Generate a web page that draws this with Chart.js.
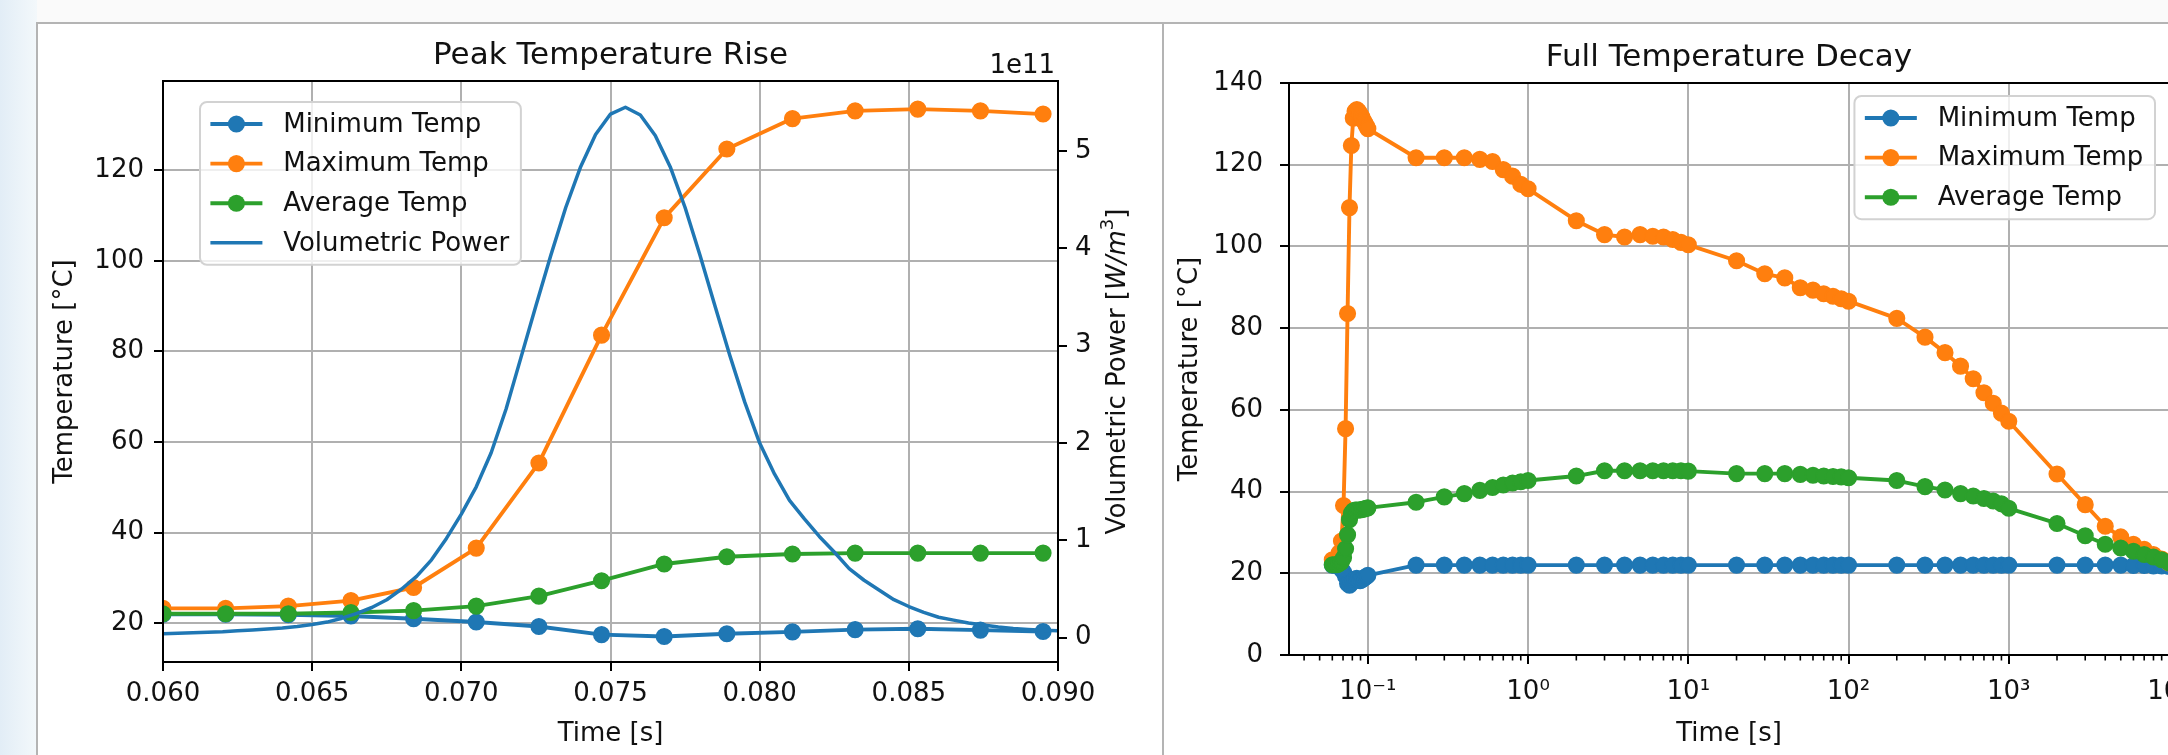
<!DOCTYPE html>
<html>
<head>
<meta charset="utf-8">
<script src="https://cdn.jsdelivr.net/npm/chart.js@4.4.1/dist/chart.umd.min.js"></script>
<style>
html,body{margin:0;padding:0;width:2168px;height:755px;overflow:hidden;}
body{position:relative;background:linear-gradient(90deg,#e2edf6 0,#f3f8fb 37px,#fafafa 37px);}
.panel{position:absolute;top:22px;height:800px;background:#fff;border:2px solid #b4b4b4;box-sizing:border-box;}
#p1{left:36px;width:1128px;}
#p2{left:1162px;width:1100px;}
canvas{position:absolute;}
#riseChart{left:39px;top:25px;}
#decayChart{left:1165px;top:25px;}
</style>
</head>
<body>
<div class="panel" id="p1"></div>
<div class="panel" id="p2"></div>
<canvas id="riseChart" width="1122" height="730" style="width:1122px;height:730px"></canvas>
<canvas id="decayChart" width="1044" height="730" style="width:1044px;height:730px"></canvas>
<script>
// ---- Peak Temperature Rise (left) ----
const riseTime=[0.0600,0.0621,0.0642,0.0663,0.0684,0.0705,0.0726,0.0747,0.0768,0.0789,0.0811,0.0832,0.0853,0.0874,0.0895];
const riseMin=[22.0,22.0,21.9,21.6,21.0,20.3,19.3,17.5,17.1,17.7,18.1,18.6,18.8,18.5,18.2];
const riseMax=[23.3,23.3,23.8,25.0,27.9,36.6,55.4,83.6,109.5,124.7,131.4,133.1,133.5,133.1,132.4];
const riseAvg=[22.1,22.1,22.1,22.4,22.8,23.8,26.0,29.4,33.1,34.7,35.3,35.5,35.5,35.5,35.5];
// volumetric power, units of 1e11 W/m^3
const powerTime=[0.0600,0.0605,0.0610,0.0615,0.0620,0.0625,0.0630,0.0635,0.0640,0.0645,
  0.0650,0.0655,0.0660,0.0665,0.0670,0.0675,0.0680,0.0685,0.0690,0.0695,
  0.0700,0.0705,0.0710,0.0715,0.0720,0.0725,0.0730,0.0735,0.0740,0.0745,
  0.0750,0.0755,0.0760,0.0765,0.0770,0.0775,0.0780,0.0785,0.0790,0.0795,
  0.0800,0.0805,0.0810,0.0815,0.0820,0.0825,0.0830,0.0835,0.0840,0.0845,
  0.0850,0.0855,0.0860,0.0865,0.0870,0.0875,0.0880,0.0885,0.0890,0.0895,0.0900];
const powerVals=[0.04,0.045,0.05,0.055,0.06,0.07,0.08,0.09,0.10,0.115,
  0.135,0.16,0.20,0.25,0.31,0.39,0.50,0.63,0.80,1.02,
  1.27,1.55,1.90,2.35,2.88,3.41,3.93,4.42,4.84,5.17,
  5.38,5.45,5.37,5.16,4.84,4.42,3.93,3.41,2.90,2.42,
  2.00,1.68,1.41,1.22,1.04,0.88,0.71,0.59,0.49,0.39,
  0.32,0.26,0.21,0.18,0.15,0.13,0.11,0.095,0.085,0.075,0.07];
const riseTimeTicks=[0.060,0.065,0.070,0.075,0.080,0.085,0.090];
const riseTempTicks=[20,40,60,80,100,120];
const powerTicks=[0,1,2,3,4,5];

// ---- Full Temperature Decay (right) ----
const decayTime=[0.0600,0.0621,0.0642,0.0663,0.0684,0.0705,0.0726,0.0747,0.0768,0.0789,
  0.0811,0.0832,0.0853,0.0874,0.0895,0.0916,0.0937,0.0958,0.0979,0.1000,
  0.2,0.3,0.4,0.5,0.6,0.7,0.8,0.9,1,
  2,3,4,5,6,7,8,9,10,
  20,30,40,50,60,70,80,90,100,
  200,300,400,500,600,700,800,900,1000,
  2000,3000,4000,5000,6000,7000,8000,9000,10000];
const decayMin=[22.0,22.0,21.9,21.6,21.0,20.3,19.3,17.5,17.1,17.7,
  18.1,18.6,18.8,18.5,18.2,18.4,18.7,19.0,19.2,19.5,
  22.0,22.0,22.0,22.0,22.0,22.0,22.0,22.0,22.0,
  22.0,22.0,22.0,22.0,22.0,22.0,22.0,22.0,22.0,
  22.0,22.0,22.0,22.0,22.0,22.0,22.0,22.0,22.0,
  22.0,22.0,22.0,22.0,22.0,22.0,22.0,22.0,22.0,
  22.0,22.0,22.0,22.0,21.9,21.9,21.8,21.8,21.7];
const decayMax=[23.3,23.3,23.8,25.0,27.9,36.6,55.4,83.6,109.5,124.7,
  131.4,133.1,133.5,133.1,132.4,131.7,130.9,130.2,129.5,128.8,
  121.7,121.7,121.7,121.3,120.8,118.8,117.2,115.2,114.1,
  106.3,102.9,102.3,102.9,102.5,102.3,101.7,101.0,100.4,
  96.5,93.3,92.3,89.9,89.3,88.4,87.8,87.2,86.6,
  82.4,77.8,74.0,70.7,67.6,64.2,61.6,59.2,57.2,
  44.3,36.8,31.5,28.9,27.1,25.9,24.6,23.5,22.5];
const decayAvg=[22.1,22.1,22.1,22.4,22.8,23.8,26.0,29.4,33.1,34.7,
  35.3,35.5,35.5,35.5,35.5,35.6,35.7,35.8,35.9,36.0,
  37.4,38.7,39.5,40.3,41.0,41.6,42.1,42.4,42.7,
  43.8,45.1,45.1,45.1,45.1,45.1,45.1,45.1,45.0,
  44.4,44.4,44.4,44.2,44.0,43.8,43.7,43.6,43.4,
  42.7,41.2,40.4,39.5,38.9,38.3,37.7,37.0,35.9,
  32.2,29.2,27.1,26.2,25.4,24.6,24.0,23.3,22.6];
const decayTimeTicks=[0.1,1,10,100,1000,10000];
const decayTimeLabels=['10⁻¹','10⁰','10¹','10²','10³','10⁴'];
const decayTempTicks=[0,20,40,60,80,100,120,140];

const BLUE='#1f77b4',ORANGE='#ff7f0e',GREEN='#2ca02c';
const FONT='"DejaVu Sans"';
Chart.defaults.font.family=FONT;
Chart.defaults.font.size=26;
Chart.defaults.color='#111';

const pts=(xs,ys)=>xs.map((x,i)=>({x:x,y:ys[i]}));

function tempSet(label,xs,ys,color,order){
  return {label:label,data:pts(xs,ys),borderColor:color,backgroundColor:color,
    pointBackgroundColor:color,pointBorderColor:color,borderWidth:3.9,pointRadius:7.8,
    pointBorderWidth:1.5,tension:0,order:order,clip:0,borderJoinStyle:'round'};
}

// minor ticks for the log axis: 2..9 times each decade
const decayMinor=[];
[0.01,0.1,1,10,100,1000].forEach(d=>{for(let m=2;m<=9;m++)decayMinor.push(+(d*m).toPrecision(3));});

function drawLegend(chart,L){
  const ctx=chart.ctx,a=chart.chartArea,fs=26;
  const items=chart.data.datasets;
  ctx.font=fs+'px '+FONT;
  const tw=Math.max(...items.map(d=>ctx.measureText(d.label).width));
  const w=fs*0.4+fs*2+fs*0.8+tw+fs*0.45;
  const h=44+39.6*(items.length-1);
  const x=L.right?a.right-L.dx-w:a.left+L.dx,y=a.top+L.dy;
  ctx.beginPath();
  if(ctx.roundRect)ctx.roundRect(x,y,w,h,7);else ctx.rect(x,y,w,h);
  ctx.fillStyle='rgba(255,255,255,0.8)';ctx.fill();
  ctx.strokeStyle='#d2d2d2';ctx.lineWidth=2;ctx.stroke();
  items.forEach((d,i)=>{
    const cy=y+22+i*39.6,hx=x+fs*0.4;
    ctx.strokeStyle=d.borderColor;ctx.lineWidth=d.borderWidth;ctx.lineCap='butt';
    ctx.beginPath();ctx.moveTo(hx,cy);ctx.lineTo(hx+fs*2,cy);ctx.stroke();
    if(d.pointRadius>0){
      ctx.fillStyle=d.borderColor;ctx.beginPath();
      ctx.arc(hx+fs,cy,d.pointRadius+0.75,0,Math.PI*2);ctx.fill();
    }
    ctx.fillStyle='#111';ctx.textAlign='left';ctx.textBaseline='middle';
    ctx.font=fs+'px '+FONT;
    ctx.fillText(d.label,hx+fs*2.8,cy+1);
  });
}

const mplDecor={
  id:'mplDecor',
  afterDatasetsDraw(chart,args,o){
    const ctx=chart.ctx,a=chart.chartArea;
    ctx.save();
    if(o.minorTicks){
      const xs=chart.scales.x;
      ctx.strokeStyle='#000';ctx.lineWidth=1.6;
      o.minorTicks.forEach(v=>{
        if(v<xs.min||v>xs.max)return;
        const px=xs.getPixelForValue(v);
        ctx.beginPath();ctx.moveTo(px,a.bottom);ctx.lineTo(px,a.bottom+5.5);ctx.stroke();
      });
    }
    // box spines
    ctx.strokeStyle='#000';ctx.lineWidth=2;
    ctx.strokeRect(a.left,a.top,a.right-a.left,a.bottom-a.top);
    // title
    ctx.fillStyle='#111';ctx.textAlign='center';ctx.textBaseline='alphabetic';
    ctx.font='31px '+FONT;
    ctx.fillText(o.title,(a.left+a.right)/2,a.top-17);
    if(o.offsetText){
      ctx.font='26px '+FONT;ctx.textAlign='right';
      ctx.fillText(o.offsetText,a.right-3,a.top-8);
    }
    if(o.rightTitle){
      ctx.save();
      ctx.translate(a.right+60,(a.top+a.bottom)/2);
      ctx.rotate(-Math.PI/2);
      let total=0;
      o.rightTitle.forEach(p=>{ctx.font=p[1];total+=ctx.measureText(p[0]).width;});
      let cx=-total/2;
      ctx.textAlign='left';ctx.textBaseline='middle';
      o.rightTitle.forEach(p=>{ctx.font=p[1];ctx.fillText(p[0],cx,p[2]);cx+=ctx.measureText(p[0]).width;});
      ctx.restore();
    }
    drawLegend(chart,o.legend);
    ctx.restore();
  }
};

const gridOpts={color:'#b0b0b0',lineWidth:2,tickLength:9,tickColor:'#000',tickWidth:2};

new Chart(document.getElementById('riseChart'),{
  type:'line',
  data:{datasets:[
    tempSet('Minimum Temp',riseTime,riseMin,BLUE,4),
    tempSet('Maximum Temp',riseTime,riseMax,ORANGE,3),
    tempSet('Average Temp',riseTime,riseAvg,GREEN,2),
    {label:'Volumetric Power',data:pts(powerTime,powerVals),yAxisID:'y1',borderColor:BLUE,
     backgroundColor:BLUE,borderWidth:3.5,pointRadius:0,tension:0,order:1,clip:0,borderJoinStyle:'round'}
  ]},
  options:{
    responsive:false,animation:false,events:[],
    layout:{padding:{top:56,left:0,right:0,bottom:0}},
    plugins:{legend:{display:false},tooltip:{enabled:false},
      mplDecor:{title:'Peak Temperature Rise',offsetText:'1e11',
        rightTitle:[['Volumetric Power [','26px '+FONT,0],['W/m','italic 26px '+FONT,0],['3','18px '+FONT,-10],[']','26px '+FONT,0]],
        legend:{right:false,dx:37,dy:21}}},
    scales:{
      x:{type:'linear',min:0.06,max:0.09,
        afterBuildTicks:s=>{s.ticks=riseTimeTicks.map(v=>({value:v}));},
        afterFit:s=>{s.height=93;},
        ticks:{callback:v=>v.toFixed(3),padding:8,autoSkip:false,maxRotation:0},
        grid:gridOpts,border:{display:false},
        title:{display:true,text:'Time [s]',padding:{top:0,bottom:5}}},
      y:{position:'left',min:11.46,max:139.7,
        afterBuildTicks:s=>{s.ticks=riseTempTicks.map(v=>({value:v}));},
        afterFit:s=>{s.width=124;},
        ticks:{padding:10},grid:gridOpts,border:{display:false},
        title:{display:true,text:'Temperature [°C]',padding:{top:11,bottom:0}}},
      y1:{position:'right',min:-0.25,max:5.72,
        afterBuildTicks:s=>{s.ticks=powerTicks.map(v=>({value:v}));},
        afterFit:s=>{s.width=103;},
        ticks:{padding:8},
        grid:Object.assign({},gridOpts,{drawOnChartArea:false}),border:{display:false}}
    }
  },
  plugins:[mplDecor]
});

new Chart(document.getElementById('decayChart'),{
  type:'line',
  data:{datasets:[
    tempSet('Minimum Temp',decayTime,decayMin,BLUE,3),
    tempSet('Maximum Temp',decayTime,decayMax,ORANGE,2),
    tempSet('Average Temp',decayTime,decayAvg,GREEN,1)
  ]},
  options:{
    responsive:false,animation:false,events:[],
    layout:{padding:{top:58,left:0,right:40,bottom:0}},
    plugins:{legend:{display:false},tooltip:{enabled:false},
      mplDecor:{title:'Full Temperature Decay',minorTicks:decayMinor,
        legend:{right:true,dx:14,dy:13}}},
    scales:{
      x:{type:'logarithmic',min:0.0322,max:10000,
        afterBuildTicks:s=>{s.ticks=decayTimeTicks.map(v=>({value:v,major:true}));},
        afterFit:s=>{s.height=100;},
        ticks:{callback:v=>decayTimeLabels[decayTimeTicks.indexOf(v)],padding:13,autoSkip:false,maxRotation:0},
        grid:gridOpts,border:{display:false},
        title:{display:true,text:'Time [s]',padding:{top:0,bottom:5}}},
      y:{position:'left',min:0,max:140,
        afterBuildTicks:s=>{s.ticks=decayTempTicks.map(v=>({value:v}));},
        afterFit:s=>{s.width=124;},
        ticks:{padding:17},grid:gridOpts,border:{display:false},
        title:{display:true,text:'Temperature [°C]',padding:{top:10,bottom:0}}}
    }
  },
  plugins:[mplDecor]
});
</script>
</body>
</html>
